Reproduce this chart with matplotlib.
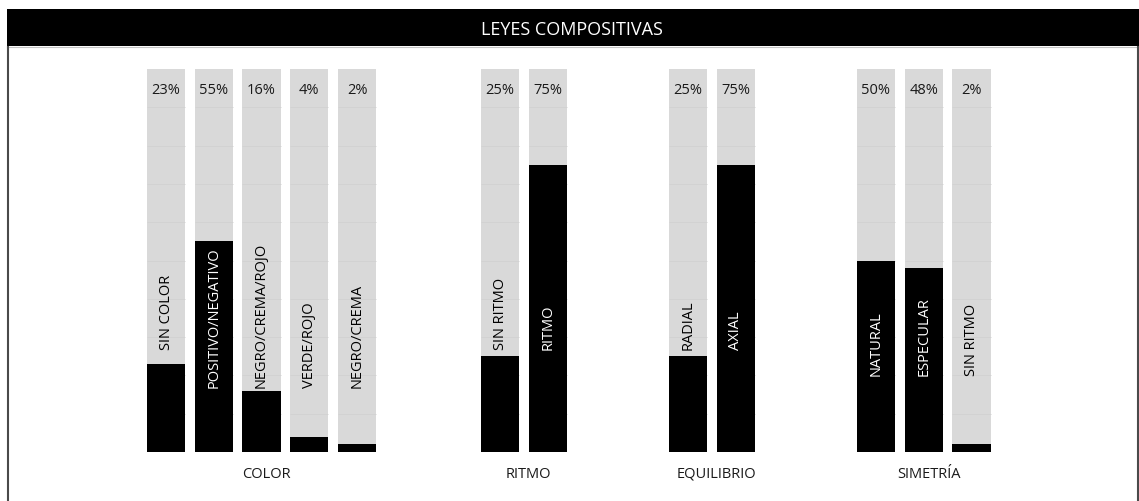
import matplotlib
matplotlib.use("Agg")
import matplotlib.pyplot as plt
from matplotlib.patches import Rectangle
from matplotlib.lines import Line2D
import numpy as np

plt.rcParams['font.family'] = ['Open Sans', 'DejaVu Sans']

# ---- data ----
title = "LEYES COMPOSITIVAS"
group_names = ["COLOR", "RITMO", "EQUILIBRIO", "SIMETRÍA"]

color_labels = ["SIN COLOR", "POSITIVO/NEGATIVO", "NEGRO/CREMA/ROJO", "VERDE/ROJO", "NEGRO/CREMA"]
color_values = [23, 55, 16, 4, 2]

ritmo_labels = ["SIN RITMO", "RITMO"]
ritmo_values = [25, 75]

equilibrio_labels = ["RADIAL", "AXIAL"]
equilibrio_values = [25, 75]

simetria_labels = ["NATURAL", "ESPECULAR", "SIN RITMO"]
simetria_values = [50, 48, 2]

groups = [
    (group_names[0], color_labels, color_values),
    (group_names[1], ritmo_labels, ritmo_values),
    (group_names[2], equilibrio_labels, equilibrio_values),
    (group_names[3], simetria_labels, simetria_values),
]

# ---- layout (pixels) ----
W, H = 1139, 502
pitch = 47.75                       # px per bar slot
first_center = [166, 500, 688, 876]  # px centre of each group's first bar
plot_bottom, plot_top = 453, 70     # px from top
label_base = [[27, 17, 17, 17, 17], [27, 27], [27, 27], [20, 20, 20]]

GREY = "#d9d9d9"
GRID = "#d1d1d1"

fig = plt.figure(figsize=(W / 100, H / 100), dpi=100)
fig.patch.set_facecolor("white")

# header band and frame
fig.patches.append(Rectangle((7 / W, 1 - 47 / H), 1 - 7 / W, 37 / H,
                             transform=fig.transFigure, facecolor="black",
                             edgecolor="none", zorder=0))
fig.lines.append(Line2D([7 / W, 1], [1 - 47.5 / H] * 2, transform=fig.transFigure,
                        color="#c4c4c4", lw=0.8))
for xp in (7.5, 1137.5):
    fig.lines.append(Line2D([xp / W, xp / W], [0, 1 - 47.5 / H],
                            transform=fig.transFigure, color="#4a4a4a", lw=1.5))
fig.text(572 / W, 1 - 30 / H, title, color="white", ha="center", va="center",
         fontsize=13)

ax_bottom = (H - plot_bottom) / H
ax_height = (plot_bottom - plot_top) / H

for g, (gname, labels, values) in enumerate(groups):
    n = len(values)
    left = (first_center[g] - pitch / 2) / W
    ax = fig.add_axes([left, ax_bottom, n * pitch / W, ax_height])
    ax.set_xlim(-0.5, n - 0.5)
    ax.set_ylim(0, 100)
    ax.set_axis_off()
    x = np.arange(n)
    w = 0.8
    ax.bar(x, [100] * n, width=w, color=GREY, zorder=1)
    for xi in x:
        ax.hlines(np.arange(10, 100, 10), xi - w / 2, xi + w / 2,
                  color=GRID, lw=0.6, zorder=1.5)
    ax.bar(x, values, width=w, color="black", zorder=2)
    for xi, lab, val, base in zip(x, labels, values, label_base[g]):
        ax.text(xi, 93.7, f"{val}%", ha="center", va="baseline", fontsize=10.5,
                color="#1a1a1a", zorder=3)
        txt_color = "white" if base < val else "black"
        ax.text(xi, base, lab, rotation=90, ha="center", va="bottom",
                fontsize=10.5, color=txt_color, zorder=3)
    ax.annotate(gname, xy=((n - 1) / 2, -6.5), xytext=(3.5, 0),
                textcoords="offset points", ha="center", va="baseline",
                fontsize=10.5, color="#1a1a1a", annotation_clip=False)

fig.savefig("out.png", dpi=100, facecolor="white")
